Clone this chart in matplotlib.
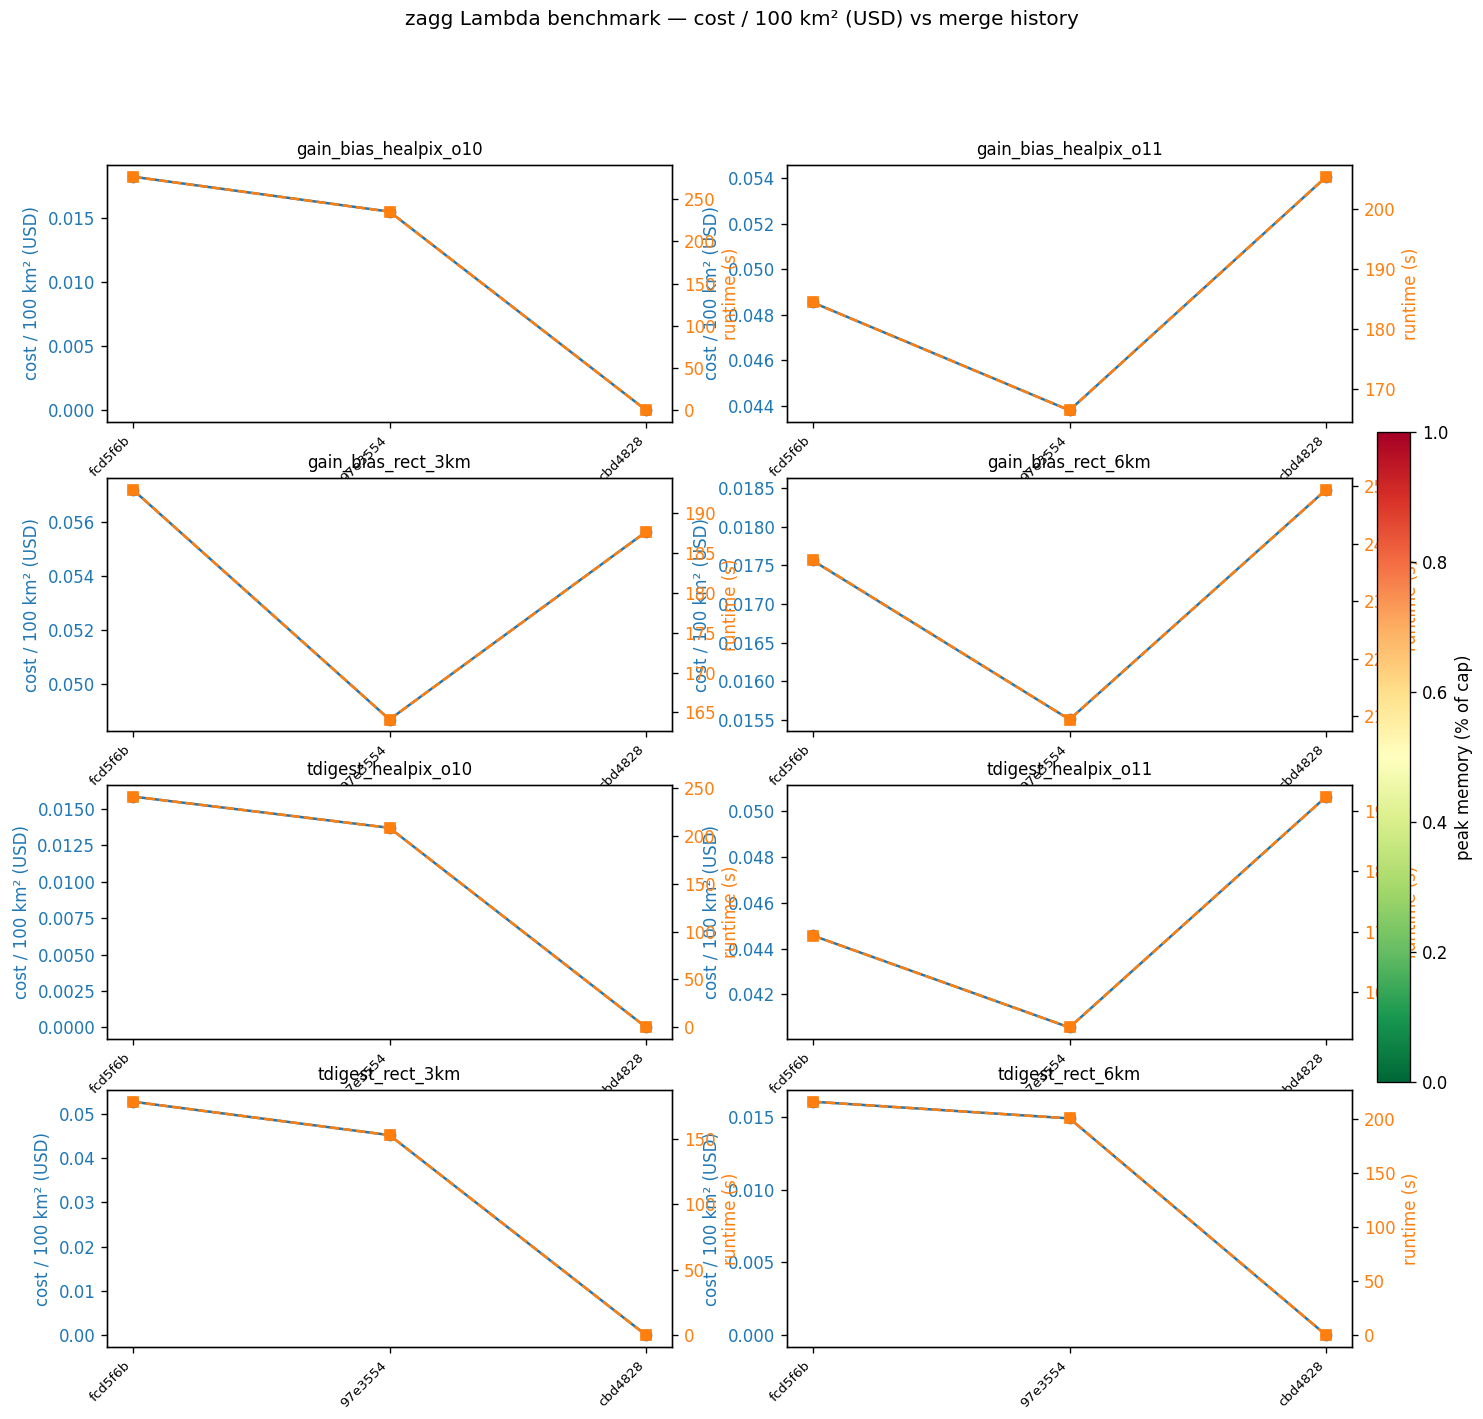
import matplotlib
matplotlib.use("Agg")
import matplotlib.pyplot as plt
from matplotlib.cm import ScalarMappable
from matplotlib.colors import Normalize

# merge history (x axis)
commits = ["fcd5f6b", "97e3554", "cbd4828"]

configs = [
    "gain_bias_healpix_o10", "gain_bias_healpix_o11",
    "gain_bias_rect_3km", "gain_bias_rect_6km",
    "tdigest_healpix_o10", "tdigest_healpix_o11",
    "tdigest_rect_3km", "tdigest_rect_6km",
]

# cost / 100 km2 (USD) per commit
cost_gain_bias_healpix_o10 = [0.01819, 0.01547, 0.0]
cost_gain_bias_healpix_o11 = [0.04855, 0.04381, 0.05407]
cost_gain_bias_rect_3km = [0.05720, 0.04867, 0.05564]
cost_gain_bias_rect_6km = [0.017564, 0.015508, 0.018482]
cost_tdigest_healpix_o10 = [0.015832, 0.013687, 0.0]
cost_tdigest_healpix_o11 = [0.044578, 0.040560, 0.050647]
cost_tdigest_rect_3km = [0.05271, 0.04517, 0.0]
cost_tdigest_rect_6km = [0.016029, 0.014883, 0.0]

# runtime (s) per commit
runtime_gain_bias_healpix_o10 = [276.4, 235.0, 0.0]
runtime_gain_bias_healpix_o11 = [184.4, 166.4, 205.4]
runtime_gain_bias_rect_3km = [193.0, 164.1, 187.7]
runtime_gain_bias_rect_6km = [237.1, 209.4, 249.4]
runtime_tdigest_healpix_o10 = [240.7, 208.1, 0.0]
runtime_tdigest_healpix_o11 = [169.35, 154.1, 192.4]
runtime_tdigest_rect_3km = [178.2, 152.7, 0.0]
runtime_tdigest_rect_6km = [215.7, 200.3, 0.0]

cost_series = [
    cost_gain_bias_healpix_o10, cost_gain_bias_healpix_o11,
    cost_gain_bias_rect_3km, cost_gain_bias_rect_6km,
    cost_tdigest_healpix_o10, cost_tdigest_healpix_o11,
    cost_tdigest_rect_3km, cost_tdigest_rect_6km,
]
runtime_series = [
    runtime_gain_bias_healpix_o10, runtime_gain_bias_healpix_o11,
    runtime_gain_bias_rect_3km, runtime_gain_bias_rect_6km,
    runtime_tdigest_healpix_o10, runtime_tdigest_healpix_o11,
    runtime_tdigest_rect_3km, runtime_tdigest_rect_6km,
]

W, H, DPI = 1483, 1419, 120
fig, axes = plt.subplots(4, 2, figsize=(W / DPI, H / DPI), dpi=DPI)

# panel boxes in pixels (left/right per column, top/bottom per row)
col_lr = [(107, 672), (787, 1352)]
row_tb = [(165, 422), (478, 731), (785, 1039), (1090, 1347)]

x = list(range(len(commits)))
for i, (ax, name, cost, runtime) in enumerate(zip(axes.ravel(), configs, cost_series, runtime_series)):
    ax.plot(x, cost, color="C0", marker="o", linestyle="-")
    ax.set_ylabel("cost / 100 km² (USD)", color="C0")
    ax.tick_params(axis="y", labelcolor="C0")
    ax.set_xticks(x)
    ax.set_xticklabels(commits, rotation=45, ha="right", fontsize=8)
    ax.set_title(name, fontsize=10)

    ax2 = ax.twinx()
    ax2.plot(x, runtime, color="C1", marker="s", linestyle="--")
    ax2.set_ylabel("runtime (s)", color="C1")
    ax2.tick_params(axis="y", labelcolor="C1")

    top, bot = row_tb[i // 2]
    lft, rgt = col_lr[i % 2]
    box = [lft / W, 1 - bot / H, (rgt - lft) / W, (bot - top) / H]
    ax.set_position(box)
    ax2.set_position(box)

# peak memory colour scale
sm = ScalarMappable(norm=Normalize(0, 1), cmap="RdYlGn_r")
cax = fig.add_axes([1377 / W, 1 - 1082 / H, 33 / W, 650 / H])
cb = fig.colorbar(sm, cax=cax)
cb.set_label("peak memory (% of cap)")

fig.suptitle("zagg Lambda benchmark — cost / 100 km² (USD) vs merge history", y=0.993)
fig.savefig("out.png", dpi=DPI)
